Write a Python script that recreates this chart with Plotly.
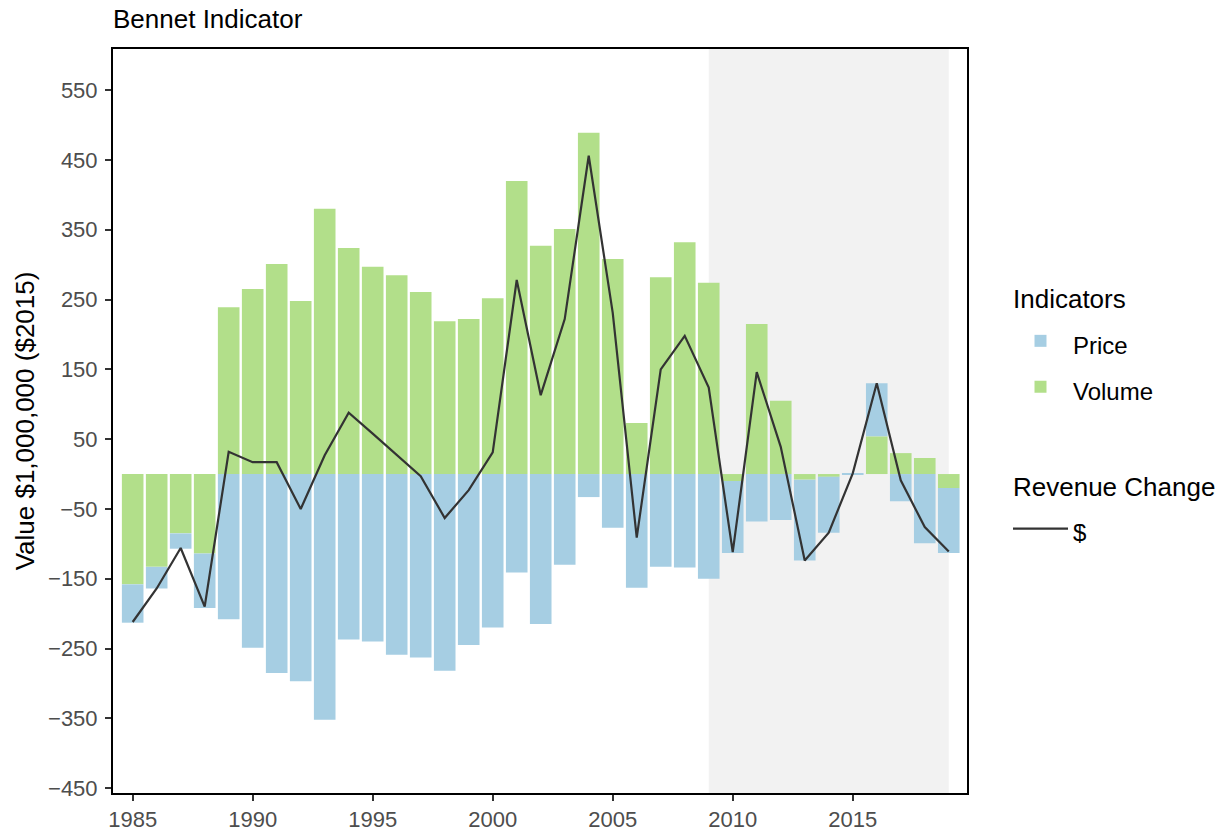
import plotly.graph_objects as go

years = list(range(1985, 2020))
price = [-55, -31, -22, -78, -208, -249, -285, -297, -352, -237, -240, -259, -263,
         -282, -245, -220, -141, -215, -130, -33, -77, -163, -133, -134, -150,
         -103, -68, -66, -116, -80, 1.2, 76, -39, -99, -93]
volume = [-158, -133, -85, -114, 239, 265, 301, 248, 380, 324, 297, 285, 261,
          219, 222, 252, 420, 327, 351, 489, 308, 73, 282, 332, 274,
          -10, 215, 105, -8, -4, 0, 54, 30, 23, -20]
revenue = [-212, -164, -106, -190, 32, 17, 17, -50, 27, 88, 58, 27, -3,
           -63, -23, 31, 278, 113, 222, 456, 231, -91, 150, 198, 124,
           -112, 146, 39, -124, -84, 1, 130, -9, -76, -111]
shade_start, shade_end = 2009, 2019
x_ticks = [1985, 1990, 1995, 2000, 2005, 2010, 2015]
y_ticks = [-450, -350, -250, -150, -50, 50, 150, 250, 350, 450, 550]

FONT = "Liberation Sans, Arial, sans-serif"
W, H = 1228, 832


def sized(text, px):
    return f'<span style="font-size:{px}px">{text}</span>'


fig = go.Figure()
fig.add_trace(go.Bar(x=years, y=volume, name=sized("Volume", 24),
                     marker_color="#B2DF8A", marker_line_width=0, width=0.9,
                     legendgroup="ind",
                     legendgrouptitle_text=sized("Indicators", 26), legendrank=2))
fig.add_trace(go.Bar(x=years, y=price, name=sized("Price", 24),
                     marker_color="#A6CEE3", marker_line_width=0, width=0.9,
                     legendgroup="ind",
                     legendgrouptitle_text=sized("Indicators", 26), legendrank=1))
fig.add_trace(go.Scatter(x=years, y=revenue, name=sized("$", 24), mode="lines",
                         line=dict(color="#333333", width=2.2),
                         legendgroup="rev",
                         legendgrouptitle_text=sized("Revenue Change", 26),
                         legendrank=3))

fig.add_shape(type="rect", xref="x", yref="paper", x0=shade_start, x1=shade_end,
              y0=0, y1=1, fillcolor="#F2F2F2", line_width=0, layer="below")

fig.update_layout(
    barmode="relative",
    width=W, height=H,
    margin=dict(l=113, r=W - 967, t=49, b=H - 793),
    plot_bgcolor="white", paper_bgcolor="white",
    font=dict(family=FONT, size=22, color="black"),
    title=dict(text="Bennet Indicator", x=113 / W, xref="container",
               xanchor="left", y=1 - 19 / H, yref="container",
               yanchor="middle", font=dict(size=26, color="black")),
    legend=dict(x=1008 / W, xref="container", xanchor="left",
                y=0.707, yref="paper", yanchor="top",
                font=dict(size=33), grouptitlefont=dict(size=33),
                tracegroupgap=50, traceorder="grouped", itemwidth=55),
    showlegend=True,
)
fig.update_xaxes(range=[1984.18, 2019.76], tickvals=x_ticks, ticks="outside",
                 ticklen=6, tickwidth=2, tickcolor="#333333", showgrid=False,
                 zeroline=False, showline=True, linecolor="black", linewidth=2,
                 mirror=True, tickfont=dict(size=22, color="#4D4D4D"),
                 automargin=False)
fig.update_yaxes(range=[-457, 609], tickvals=y_ticks, ticks="outside",
                 ticklen=6, tickwidth=2, tickcolor="#333333", showgrid=False,
                 zeroline=False, showline=True, linecolor="black", linewidth=2,
                 mirror=True, tickfont=dict(size=22, color="#4D4D4D"),
                 ticklabelstandoff=3, automargin=False,
                 title=dict(text="Value $1,000,000 ($2015)", standoff=6,
                            font=dict(size=26, color="black")))

fig.write_html("out.html", config={"displayModeBar": False},
               post_script="document.body.style.margin='0';"
                           "document.documentElement.style.overflow='hidden';")
